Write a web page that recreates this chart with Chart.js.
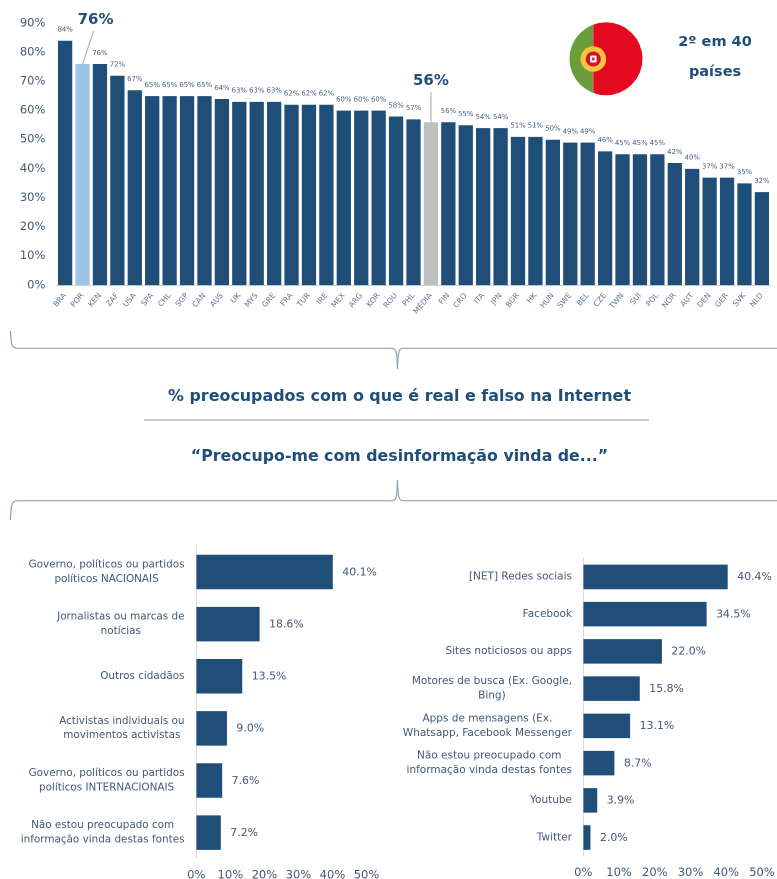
<!DOCTYPE html>
<html lang="pt"><head><meta charset="utf-8">
<script src="https://cdn.jsdelivr.net/npm/chart.js@4"></script>
<style>
html,body{margin:0;padding:0;background:#fff;width:777px;height:879px;overflow:hidden}
#page{position:relative;width:777px;height:879px;overflow:hidden;filter:blur(.35px)}
canvas{position:absolute}
#deco{position:absolute;left:0;top:0}
.t{position:absolute;font-family:"DejaVu Sans",sans-serif;font-weight:700;color:#1f4e79;text-align:center;white-space:nowrap;transform:translate(-50%,-50%)}
</style></head><body>
<div id="page">
<svg id="deco" width="777" height="879" viewBox="0 0 777 879">
 <defs><clipPath id="c"><circle cx="606" cy="58.7" r="36.5"/></clipPath></defs>
 <g clip-path="url(#c)"><rect x="560" y="20" width="33.3" height="80" fill="#6a9e3c"/><rect x="593.3" y="20" width="60" height="80" fill="#e30a20"/></g>
 <circle cx="593.3" cy="59" r="12.8" fill="#f7c63e"/><circle cx="593.3" cy="59" r="7.6" fill="#d8102a"/><rect x="590" y="55.5" width="6.6" height="7" rx="1.5" fill="#fff"/><rect x="592" y="57.5" width="2.6" height="3" fill="#c9354a"/>
 <g fill="none" stroke="#8497b0" stroke-width="1.1">
  <path d="M10.5 331C11 345 12 348.3 17 348.3H392C396 348.3 397 351 397.5 369"/>
  <path d="M777 348.3H403C399 348.3 398 351 397.5 369"/>
  <path d="M144 420H649"/>
  <path d="M10.5 520C11 504 12 500.7 17 500.7H392C396 500.7 397 498 397.5 480"/>
  <path d="M777 500.7H403C399 500.7 398 498 397.5 480"/>
 </g>
</svg>
<canvas id="top" style="left:0;top:0"></canvas>
<canvas id="left" style="left:0;top:530px"></canvas>
<canvas id="right" style="left:390px;top:530px"></canvas>
<div class="t" style="left:715px;top:41px;font-size:14.5px">2º em 40</div>
<div class="t" style="left:715px;top:71px;font-size:14.5px">países</div>
<div class="t" style="left:399.5px;top:395px;font-size:15.9px">% preocupados com o que é real e falso na Internet</div>
<div class="t" style="left:399.5px;top:454.5px;font-size:15.8px">“Preocupo-me com desinformação vinda de...”</div>
</div>
<script>
const countries = ["BRA","POR","KEN","ZAF","USA","SPA","CHL","SGP","CAN","AUS","UK","MYS","GRE","FRA","TUR","IRE","MEX","ARG","KOR","ROU","PHL","MÉDIA","FIN","CRO","ITA","JPN","BGR","HK","HUN","SWE","BEL","CZE","TWN","SUI","POL","NOR","AUT","DEN","GER","SVK","NLD"];
const worried = [84,76,76,72,67,65,65,65,65,64,63,63,63,62,62,62,60,60,60,58,57,56,56,55,54,54,51,51,50,49,49,46,45,45,45,42,40,37,37,35,32];
const whoLabels = [["Governo, políticos ou partidos","políticos NACIONAIS"],["Jornalistas ou marcas de","notícias"],["Outros cidadãos"],["Activistas individuais ou","movimentos activistas"],["Governo, políticos ou partidos","políticos INTERNACIONAIS"],["Não estou preocupado com","informação vinda destas fontes"]];
const whoValues = [40.1,18.6,13.5,9.0,7.6,7.2];
const whereLabels = [["[NET] Redes sociais"],["Facebook"],["Sites noticiosos ou apps"],["Motores de busca (Ex. Google,","Bing)"],["Apps de mensagens (Ex.","Whatsapp, Facebook Messenger"],["Não estou preocupado com","informação vinda destas fontes"],["Youtube"],["Twitter"]];
const whereValues = [40.4,34.5,22.0,15.8,13.1,8.7,3.9,2.0];
const callouts = [{index:1,text:"76%"},{index:21,text:"56%"}];

const INK="#1f4e79", TXT="#3f5877", FONT='"DejaVu Sans", sans-serif';
Chart.defaults.font.family=FONT;
Chart.defaults.animation=false;
Chart.defaults.responsive=false;
Chart.defaults.devicePixelRatio=2;

function size(id,w,h){const c=document.getElementById(id);c.width=w;c.height=h;c.style.width=w+'px';c.style.height=h+'px';return c;}

const topPlugin={id:'topLabels',afterDatasetsDraw(ch){
  const {ctx,scales:{x,y}}=ch;ctx.save();
  ctx.textAlign='center';ctx.textBaseline='middle';
  const called=callouts.map(o=>o.index);
  ctx.font='6.9px '+FONT;ctx.fillStyle='#46607f';
  worried.forEach((v,i)=>{ if(!called.includes(i)) ctx.fillText(v+'%',x.getPixelForValue(i),y.getPixelForValue(v)-11); });
  callouts.forEach(o=>{
    const bx=x.getPixelForValue(o.index), by=y.getPixelForValue(worried[o.index]);
    ctx.strokeStyle='#a6a6a6';ctx.lineWidth=1;ctx.beginPath();
    if(o.index===1){ctx.moveTo(bx,by);ctx.lineTo(bx+11,by-33);}
    else{ctx.moveTo(bx,by);ctx.lineTo(bx,by-30);}
    ctx.stroke();
    ctx.font='bold 15px '+FONT;ctx.fillStyle=INK;
    if(o.index===1) ctx.fillText(o.text,bx+13,by-44);
    else ctx.fillText(o.text,bx,by-41);
  });
  ctx.restore();
}};

new Chart(size('top',777,330),{type:'bar',
  data:{labels:countries,datasets:[{data:worried,barPercentage:.82,categoryPercentage:1,
    backgroundColor:countries.map(c=>c==='POR'?'#9dc3e6':c==='MÉDIA'?'#bfbfbf':INK)}]},
  options:{layout:{padding:{top:23.3,right:6.4,left:0,bottom:0}},
    plugins:{legend:{display:false},tooltip:{enabled:false}},
    scales:{
      x:{grid:{display:false,drawTicks:false},border:{color:'#d0d7e0'},
         afterFit(s){s.height=44.7;},
         ticks:{font:{size:7.6},color:'#5a7594',maxRotation:50,minRotation:50,autoSkip:false,padding:6}},
      y:{min:0,max:90,grid:{display:false,drawTicks:false},border:{display:false},
         afterFit(s){s.width=56.4;},
         ticks:{stepSize:10,font:{size:11.5},color:TXT,padding:11,callback:v=>v+'%'}}
    }},
  plugins:[topPlugin]});

function hbar(id,w,h,labels,values,cfg){
  const plug={id:'hl',afterDatasetsDraw(ch){
    const {ctx,scales:{x,y}}=ch;ctx.save();ctx.fillStyle=TXT;ctx.textBaseline='middle';
    ctx.font=cfg.labelFont+'px '+FONT;
    labels.forEach((lines,i)=>{
      const cy=y.getPixelForValue(i);
      const mw=Math.max(...lines.map(l=>ctx.measureText(l).width));
      const cx=cfg.labelRight-mw/2;
      ctx.textAlign='center';
      lines.forEach((l,k)=>ctx.fillText(l,cx,cy+(k-(lines.length-1)/2)*14.3));
    });
    ctx.textAlign='left';ctx.font='10.9px '+FONT;
    values.forEach((v,i)=>ctx.fillText(v.toFixed(1)+'%',x.getPixelForValue(v)+9.5,y.getPixelForValue(i)+.5));
    ctx.restore();
  }};
  new Chart(size(id,w,h),{type:'bar',
    data:{labels:labels.map(l=>l.join(' ')),datasets:[{data:values,backgroundColor:INK,categoryPercentage:1,barPercentage:cfg.bar}]},
    options:{indexAxis:'y',layout:{padding:{top:cfg.top,right:cfg.right,left:0,bottom:0}},
      plugins:{legend:{display:false},tooltip:{enabled:false}},
      scales:{
        x:{min:0,max:50,grid:{display:false,drawTicks:false},border:{display:false},
           afterFit(s){s.height=cfg.bottom;},
           ticks:{stepSize:10,font:{size:11.5},color:TXT,padding:cfg.tickPad,maxRotation:0,callback:v=>v+'%'}},
        y:{grid:{display:false,drawTicks:false},border:{color:'#dcdcdc',width:1},
           afterFit(s){s.width=cfg.axisLeft;},
           ticks:{display:false}}
      }},
    plugins:[plug]});
}
hbar('left',390,349,whoLabels,whoValues,{labelRight:184.5,labelFont:10.4,bar:.662,top:15.9,bottom:20.3,right:23.5,axisLeft:196.3,tickPad:10});
hbar('right',420,349,whereLabels,whereValues,{labelRight:182,labelFont:10.5,bar:.659,top:28.3,bottom:22.8,right:48,axisLeft:193.3,tickPad:10});
</script>
</body></html>
